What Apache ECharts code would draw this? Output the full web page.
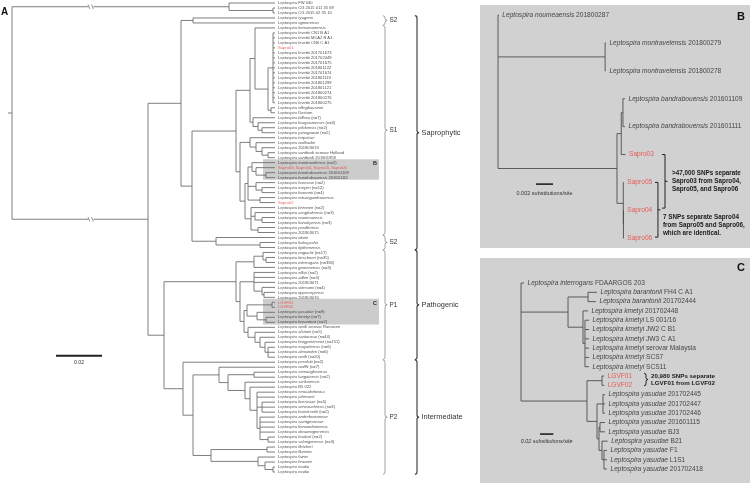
<!DOCTYPE html>
<html><head><meta charset="utf-8"><title>Leptospira phylogeny</title>
<script src="https://cdn.jsdelivr.net/npm/echarts@6/dist/echarts.min.js"></script>
<style>html,body{margin:0;padding:0;background:#fff;}#chart{width:750px;height:483px;}</style>
</head><body><div id="chart"></div>
<script>
// ================= DATA =================
// Panel A leaves (top to bottom)
const leavesA = [
'Leptospira FW 030','Leptospira CG 2015 011 35 69','Leptospira CG 2015 02 35 10','Leptospira ryugenii','Leptospira ognonensis','Leptospira kemamanensis',
'Leptospira levettii CN1 B A1','Leptospira levettii MCA2 B A1','Leptospira levettii CN6 C A1','Sapro01',
'Leptospira levettii 201701673','Leptospira levettii 201702449','Leptospira levettii 201701675','Leptospira levettii 201801122','Leptospira levettii 201701674','Leptospira levettii 201801119','Leptospira levettii 201801299','Leptospira levettii 201801121','Leptospira levettii 201800274','Leptospira levettii 201800276','Leptospira levettii 201800275',
'Leptospira ellinghausenii','Leptospira Destum','Leptospira biflexa (n=7)','Leptospira bouyouniensis (n=3)','Leptospira jelokensis (n=2)','Leptospira yanagawae (n=2)','Leptospira terpstrae','Leptospira wolbachii','Leptospira 201903074','Leptospira vanthielii serovar Holland','Leptospira vanthielii 201801958',
'Leptospira montravelensis (n=2)','Sapro03, Sapro04, Sapro05, Sapro06','Leptospira bandrabouensis 201601109','Leptospira bandrabouensis 201601111','Leptospira harrisiae (n=2)','Leptospira meyeri (n=12)','Leptospira bourretii (n=4)','Leptospira mtsangambouensis','Sapro02',
'Leptospira brenneri (n=2)','Leptospira congkakensis (n=3)','Leptospira noumeaensis','Leptospira kanakyensis (n=3)','Leptospira perdikensis','Leptospira 201903075','Leptospira idonii','Leptospira kobayashii','Leptospira ilyithenensis',
'Leptospira noguchii (n=17)','Leptospira kirschneri (n=35)','Leptospira interrogans (n=394)','Leptospira gomenensis (n=4)','Leptospira ellisii (n=2)','Leptospira adleri (n=3)','Leptospira 201903071','Leptospira stimsonii (n=4)','Leptospira tipperaryensis','Leptospira 201903070',
'LGVF01','LGVF02','Leptospira yasudae (n=9)','Leptospira kmetyi (n=7)','Leptospira barantonii (n=2)','Leptospira weilii serovar Ranarum','Leptospira alstonii (n=5)','Leptospira santarosai (n=44)','Leptospira borgpetersenii (n=151)','Leptospira mayottensis (n=6)','Leptospira alexanderi (n=6)','Leptospira weilii (n=20)',
'Leptospira perolatii (n=2)','Leptospira wolffii (n=7)','Leptospira semungkisensis','Leptospira langatensis (n=2)','Leptospira sarikeiensis','Leptospira B5 022','Leptospira neocaledonica','Leptospira johnsonii','Leptospira licerasiae (n=5)','Leptospira venezuelensis (n=3)','Leptospira hartskeerlii (n=2)','Leptospira andrefontaineae','Leptospira saintgironsiae','Leptospira koniambonensis','Leptospira dzoumogneensis','Leptospira haakeii (n=2)','Leptospira selangorensis (n=3)','Leptospira fletcheri','Leptospira fluminis','Leptospira fainei','Leptospira broomii','Leptospira inadai','Leptospira inadai'
];
// Panel A tree: [nodeDepth, child, child, ...]; a number = leaf index.
// Depth units: 0.02 substitutions/site = 46 units.
const tipDepthA = 263;
const outgroupA = [217, 0, [261, 1, 2]];
const s1A = [224,
  [238,
    [243, 5, [256, [261, 6, 7, 8, 9, 10, 11, 12, 13, 14, 15, 16, 17, 18, 19, 20], [259, 21, 22]]],
    [241, 23, [246, 24, [250, 25, 26]]]],
  [228,
    [238, 27, [244, 28, [250, 29, [256, 30, 31]]]],
    [233,
      [236, [240, 32, [244, 33, [254, 34, 35]]], [244, 36, [250, 37, 38]], [248, 39, 40]],
      [239, 41, [243, 42, [250, 43, 44]], [246, 45, 46]]]]];
const saprophyticA = [169, [181, 3, 4], [180, s1A, [204, 47, [248, 48, 49]]]];
const p1A = [224,
  [242, [251, 50, [254, 51, 52]], 53],
  [228,
    [242, 54, 55, 56, [250, 57, [252, 58, 59]]],
    [232,
      [235, [260, 60, 61], [245, 62, [254, 63, 64]]],
      [236, 65, [243, 66, [248, 67, [253, 68, [256, 69, 70, 71]]]]]]]];
const p2A = [171, 72,
  [181,
    [207, 73, [216, [242, 74, 75], [233, 76, [238, 77, [245, 78, 79, [250, 80, 81, 82], [248, 83, 84, 85, 86, [256, 87, 88]]]]]]],
    [199, [255, 89, 90], [246, 91, [253, 92, [261, 93, 94]]]]]];
const ingroupA = [136, saprophyticA, [152, p1A, p2A]];
outgroupA.brk = true; ingroupA.brk = true;   // branches drawn with a "//" break
const treeA = [0, outgroupA, ingroupA];
// Clade brackets [label, firstLeaf, lastLeaf, level]
const groupsA = [
  ['S2', 3, 4, 1], ['S1', 5, 46, 1], ['S2', 47, 49, 1], ['P1', 50, 71, 1], ['P2', 72, 94, 1],
  ['Saprophytic', 3, 49, 2], ['Pathogenic', 50, 71, 2], ['Intermediate', 72, 94, 2]
];
// Highlighted clades [label, firstLeaf, lastLeaf]
const highlightsA = [['B', 32, 35], ['C', 60, 64]];
const scaleA = [[44, 70.7, 46]];           // x, y(leaf units), length (= 0.02)
const scaleLabelA = '0.02';

// Panel B (units: 0.001 substitutions/site)
const leavesB = ['Leptospira noumeaensis 201800287','Leptospira montravelensis 201800279','Leptospira montravelensis 201800278',
  'Leptospira bandrabouensis 201601109','Leptospira bandrabouensis 201601111','Sapro03','Sapro05','Sapro04','Sapro06'];
const tipsB = [0.1, 12.7, 12.7, 14.94, 14.94, 15.0, 14.8, 14.8, 14.8];
const treeB = [0, 0, [12.6, 1, 2], [14.0, [14.5, [14.7, 3, 4], 5], [14.74, 6, [14.76, 7, 8]]]];
const notesB = [['>47,000 SNPs separate', 'Sapro03 from Sapro04,', 'Sapro05, and Sapro06'],
                ['7 SNPs separate Sapro04', 'from Sapro05 and Sapro06,', 'which are identical.']];
const noteSpansB = [[5.0, 6.92], [6.0, 7.96]];
const scaleB = [[4.47, 6.06, 2]];
const scaleLabelB = '0.002 substitutions/site';

// Panel C (units: 0.01 substitutions/site)
const leavesC = ['Leptospira interrogans FDAARGOS 203','Leptospira barantonii FH4 C A1','Leptospira barantonii 201702444',
  'Leptospira kmetyi 201702448','Leptospira kmetyi LS 001/16','Leptospira kmetyi JW2 C B1','Leptospira kmetyi JW3 C A1',
  'Leptospira kmetyi serovar Malaysia','Leptospira kmetyi SCS7','Leptospira kmetyi SCS11','LGVF01','LGVF02',
  'Leptospira yasudae 201702445','Leptospira yasudae 201702447','Leptospira yasudae 201702446','Leptospira yasudae 201601115',
  'Leptospira yasudae BJ3','Leptospira yasudae B21','Leptospira yasudae F1','Leptospira yasudae L1S1','Leptospira yasudae 201702418'];
const tipsC = [0.45, 11.43, 11.28, 10.08, 10.23, 10.23, 10.23, 10.23, 10.23, 10.23, 12.5, 12.5,
  12.63, 12.63, 12.63, 12.63, 12.63, 13.03, 12.93, 12.93, 12.93];
const treeC = [0, 0,
  [7.07, [10.08, 1, 2], [9.32, 3, [9.62, 4, 5, 6, 7, 8, 9]]],
  [9.92, [12.18, 10, 11], [11.43, [12.33, 12, 13, 14], [11.73, [11.88, 15, 16], [12.18, 17, [12.48, 18, 19, 20]]]]]];
const noteC = ['20,980 SNPs separate', 'LGVF01 from LGVF02'];
const noteSpanC = [9.7, 11.05];
const scaleC = [[2.86, 16.24, 2]];
const scaleLabelC = '0.02 substitutions/site';

// ================= STYLE =================
const RED = '#e8413c';
const FONT = '"Liberation Sans", Arial, Helvetica, sans-serif';
const PANEL_GRAY = '#d1d1d1';
const HL_GRAY = '#cccccc';

// ================= HELPERS =================
function layoutTree(root, tipOf, stub) {
  const segs = [];
  function walk(node) {
    if (typeof node === 'number') return {y: node, d: tipOf(node)};
    const kids = node.slice(1).map(walk);
    const d = node[0];
    const y = (kids[0].y + kids[kids.length - 1].y) / 2;
    segs.push([d, kids[0].y, d, kids[kids.length - 1].y, 0]);
    node.slice(1).forEach((k, i) => segs.push([d, kids[i].y, kids[i].d, kids[i].y, (typeof k !== 'number' && k.brk) ? 1 : 0]));
    return {y, d};
  }
  const r = walk(root);
  if (stub) segs.push([r.d - stub, r.y, r.d, r.y, 0]);
  return segs;
}
function fmtName(s) {
  if (/^(Sapro|LGVF)/.test(s)) return '{red|' + s + '}';
  const w = s.split(' ');
  const k = (w[1] && /^[a-z]/.test(w[1])) ? 2 : 1;
  const rest = w.slice(k).join(' ');
  return '{it|' + w.slice(0, k).join(' ') + '}' + (rest ? '{n| ' + rest + '}' : '');
}
function rich(fs, color) {
  const base = {fontSize: fs, fontFamily: FONT, color: color, lineHeight: fs * 1.2};
  return {it: Object.assign({}, base, {fontStyle: 'italic'}), n: Object.assign({}, base), red: Object.assign({}, base, {color: RED})};
}
function edgeSeries(gi, segs, color, lw, breakAt) {
  return {
    type: 'custom', xAxisIndex: gi, yAxisIndex: gi, silent: true, z: 3, animation: false,
    data: segs, encode: {x: [0, 2], y: [1, 3]},
    renderItem(params, api) {
      const a = api.coord([api.value(0), api.value(1)]);
      const b = api.coord([api.value(2), api.value(3)]);
      const line = {type: 'line', shape: {x1: a[0], y1: a[1], x2: b[0], y2: b[1]}, style: {stroke: color, lineWidth: lw}};
      if (!api.value(4)) return line;
      const m = api.coord([breakAt, api.value(1)]);
      return {type: 'group', children: [
        line,
        {type: 'rect', shape: {x: m[0] - 2.5, y: m[1] - 3, width: 5, height: 6}, style: {fill: '#fff'}},
        {type: 'line', shape: {x1: m[0] - 3, y1: m[1] - 2.2, x2: m[0] - 1.2, y2: m[1] + 2.2}, style: {stroke: '#777', lineWidth: 0.8}},
        {type: 'line', shape: {x1: m[0] + 0.6, y1: m[1] - 2.2, x2: m[0] + 2.4, y2: m[1] + 2.2}, style: {stroke: '#777', lineWidth: 0.8}}
      ]};
    }
  };
}
function labelSeries(gi, names, tipOf, fs, color, dist) {
  return {
    type: 'scatter', xAxisIndex: gi, yAxisIndex: gi, silent: true, z: 4, animation: false,
    symbolSize: 1, itemStyle: {color: 'rgba(0,0,0,0)'},
    data: names.map((n, i) => [tipOf(i), i, n]),
    label: {show: true, position: 'right', distance: dist, fontSize: fs, fontFamily: FONT, color: color,
      formatter: p => fmtName(p.data[2]), rich: rich(fs, color)}
  };
}
function scaleSeries(gi, data, text, lw, dy, fs, italic) {
  return {
    type: 'custom', xAxisIndex: gi, yAxisIndex: gi, silent: true, z: 5, animation: false,
    data: data, encode: {x: 0, y: 1},
    renderItem(params, api) {
      const a = api.coord([api.value(0), api.value(1)]);
      const b = api.coord([api.value(0) + api.value(2), api.value(1)]);
      return {type: 'group', children: [
        {type: 'line', shape: {x1: a[0], y1: a[1], x2: b[0], y2: b[1]}, style: {stroke: '#222', lineWidth: lw}},
        {type: 'text', x: (a[0] + b[0]) / 2, y: a[1] + dy, style: {text: text, fill: '#333', fontSize: fs, fontFamily: FONT,
          fontStyle: italic ? 'italic' : 'normal', align: 'center', verticalAlign: 'middle'}}
      ]};
    }
  };
}
function curlyPath(x, y1, y2, w) {
  const m = (y1 + y2) / 2;
  return 'M' + (x - w) + ',' + y1 + 'Q' + x + ',' + y1 + ' ' + x + ',' + (y1 + w) +
    'L' + x + ',' + (m - w) + 'Q' + x + ',' + m + ' ' + (x + w) + ',' + m +
    'Q' + x + ',' + m + ' ' + x + ',' + (m + w) + 'L' + x + ',' + (y2 - w) +
    'Q' + x + ',' + y2 + ' ' + (x - w) + ',' + y2;
}

// ================= BUILD =================
const segsA = layoutTree(treeA, () => tipDepthA, 4);
const segsB = layoutTree(treeB, i => tipsB[i], 0);
const segsC = layoutTree(treeC, i => tipsC[i], 0);

const BRACKET_X = {1: 373, 2: 405};     // bracket columns in panel A units
const HL_X = [251, 367];                 // highlight box extent in panel A units

const series = [
  // panel A highlight boxes
  {type: 'custom', xAxisIndex: 0, yAxisIndex: 0, silent: true, z: 1, animation: false,
    data: highlightsA.map(h => [h[1], h[2]]), encode: {x: -1, y: [0, 1]},
    renderItem(params, api) {
      const h = highlightsA[params.dataIndex];
      const p1 = api.coord([HL_X[0], api.value(0) - 0.7]);
      const p2 = api.coord([HL_X[1], api.value(1) + 0.45]);
      const ty = api.coord([0, api.value(0) + 0.25])[1];
      return {type: 'group', children: [
        {type: 'rect', shape: {x: p1[0], y: p1[1], width: p2[0] - p1[0], height: p2[1] - p1[1]}, style: {fill: HL_GRAY}},
        {type: 'text', x: p2[0] - 6, y: ty, style: {text: h[0], fill: '#222', fontSize: 5.5, fontWeight: 'bold', fontFamily: FONT, align: 'left', verticalAlign: 'middle'}}
      ]};
    }},
  edgeSeries(0, segsA, '#6f6f6f', 0.9, 79),
  labelSeries(0, leavesA, () => tipDepthA, 4.1, '#222', 2.5),
  // clade brackets
  {type: 'custom', xAxisIndex: 0, yAxisIndex: 0, silent: true, z: 5, animation: false,
    data: groupsA.map(g => [g[1], g[2], g[3]]), encode: {x: -1, y: [0, 1]},
    renderItem(params, api) {
      const g = groupsA[params.dataIndex];
      const lvl = g[3];
      const y1 = api.coord([0, api.value(0) - 0.45])[1];
      const y2 = api.coord([0, api.value(1) + 0.45])[1];
      const x = api.coord([BRACKET_X[lvl], 0])[0];
      return {type: 'group', children: [
        {type: 'path', shape: {pathData: curlyPath(x, y1, y2, 2.2)}, style: {fill: 'none', stroke: lvl === 1 ? '#8a8a8a' : '#444', lineWidth: lvl === 1 ? 0.8 : 1.2}},
        {type: 'text', x: x + 4.5, y: (y1 + y2) / 2, style: {text: g[0], fill: '#333', fontSize: lvl === 1 ? 6.4 : 7.4, fontFamily: FONT, align: 'left', verticalAlign: 'middle'}}
      ]};
    }},
  scaleSeries(0, scaleA, scaleLabelA, 2, 6.5, 5.2, false),

  // panel B
  edgeSeries(1, segsB, '#4d4d4d', 0.9, 0),
  labelSeries(1, leavesB, i => tipsB[i], 6.6, '#222', 3),
  {type: 'custom', xAxisIndex: 1, yAxisIndex: 1, silent: true, z: 5, animation: false,
    data: noteSpansB, encode: {x: -1, y: [0, 1]},
    renderItem(params, api) {
      const cfg = [{x: 19.65, dx: 7, dy: 0}, {x: 18.82, dx: 5, dy: 15}][params.dataIndex];
      const y1 = api.coord([0, api.value(0)])[1];
      const y2 = api.coord([0, api.value(1)])[1];
      const x = api.coord([cfg.x, 0])[0];
      const m = (y1 + y2) / 2;
      const p = 'M' + (x - 3) + ',' + y1 + 'L' + x + ',' + y1 + 'L' + x + ',' + y2 + 'L' + (x - 3) + ',' + y2 + 'M' + x + ',' + m + 'L' + (x + 2.5) + ',' + m;
      return {type: 'group', children: [
        {type: 'path', shape: {pathData: p}, style: {fill: 'none', stroke: '#222', lineWidth: 1}},
        {type: 'text', x: x + cfg.dx, y: m + cfg.dy, style: {text: notesB[params.dataIndex].join('\n'), fill: '#1a1a1a', fontSize: 6.3, fontWeight: 'bold', fontFamily: FONT, lineHeight: 8, align: 'left', verticalAlign: 'middle'}}
      ]};
    }},
  scaleSeries(1, scaleB, scaleLabelB, 1.6, 9, 5.5, false),

  // panel C
  edgeSeries(2, segsC, '#4d4d4d', 0.9, 0),
  labelSeries(2, leavesC, i => tipsC[i], 6.6, '#222', 3),
  {type: 'custom', xAxisIndex: 2, yAxisIndex: 2, silent: true, z: 5, animation: false,
    data: [noteSpanC], encode: {x: -1, y: [0, 1]},
    renderItem(params, api) {
      const y1 = api.coord([0, api.value(0)])[1];
      const y2 = api.coord([0, api.value(1)])[1];
      const x = api.coord([18.8, 0])[0];
      return {type: 'group', children: [
        {type: 'path', shape: {pathData: curlyPath(x, y1, y2, 2)}, style: {fill: 'none', stroke: '#222', lineWidth: 1}},
        {type: 'text', x: x + 5, y: (y1 + y2) / 2, style: {text: noteC.join('\n'), fill: '#1a1a1a', fontSize: 6.2, fontWeight: 'bold', fontFamily: FONT, lineHeight: 7.3, align: 'left', verticalAlign: 'middle'}}
      ]};
    }},
  scaleSeries(2, scaleC, scaleLabelC, 1.6, 7, 5.4, true)
];

const chart = echarts.init(document.getElementById('chart'), null, {renderer: 'canvas'});
chart.setOption({
  animation: false,
  backgroundColor: '#ffffff',
  grid: [
    {left: 12, top: 3, width: 458, height: 469, show: false},
    {left: 480, top: 5, width: 270, height: 243, show: true, backgroundColor: PANEL_GRAY, borderWidth: 0},
    {left: 480, top: 258, width: 270, height: 225, show: true, backgroundColor: PANEL_GRAY, borderWidth: 0}
  ],
  xAxis: [
    {gridIndex: 0, type: 'value', min: 0, max: 458, show: false},
    {gridIndex: 1, type: 'value', min: -2.12, max: 29.65, show: false},
    {gridIndex: 2, type: 'value', min: -6.17, max: 34.44, show: false}
  ],
  yAxis: [
    {gridIndex: 0, type: 'value', min: 0, max: 94, inverse: true, show: false},
    {gridIndex: 1, type: 'value', min: -0.36, max: 8.35, inverse: true, show: false},
    {gridIndex: 2, type: 'value', min: -2.69, max: 21.5, inverse: true, show: false}
  ],
  graphic: [
    {type: 'text', left: 1, top: 7, z: 100, style: {text: 'A', fill: '#111', fontSize: 10, fontWeight: 'bold', fontFamily: FONT}},
    {type: 'text', left: 737, top: 11, z: 100, style: {text: 'B', fill: '#111', fontSize: 11, fontWeight: 'bold', fontFamily: FONT}},
    {type: 'text', left: 737, top: 262, z: 100, style: {text: 'C', fill: '#111', fontSize: 11, fontWeight: 'bold', fontFamily: FONT}}
  ],
  series: series
});
</script></body></html>
